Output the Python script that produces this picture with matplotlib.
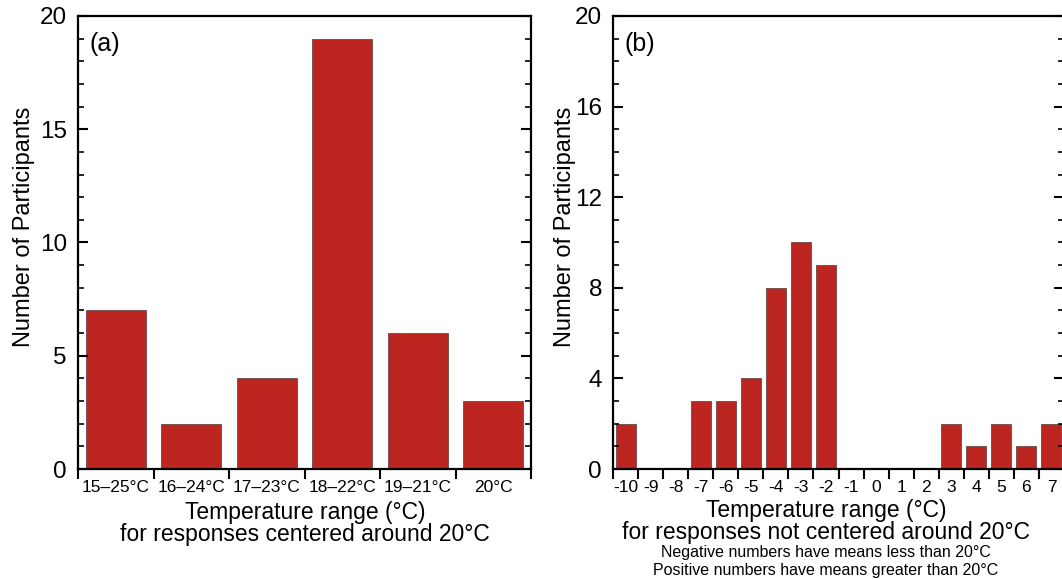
import numpy as np
import matplotlib
matplotlib.use("Agg")
import matplotlib.pyplot as plt
from matplotlib.ticker import MultipleLocator, FixedLocator

plt.rcParams['font.family'] = ['Liberation Sans', 'DejaVu Sans']

# panel (a) data
rangesA = ['15\u201325\u00b0C', '16\u201324\u00b0C', '17\u201323\u00b0C',
           '18\u201322\u00b0C', '19\u201321\u00b0C', '20\u00b0C']
countsA = [7, 2, 4, 19, 6, 3]

# panel (b) data
offsetsB = [-10, -9, -8, -7, -6, -5, -4, -3, -2, -1, 0, 1, 2, 3, 4, 5, 6, 7]
countsB = [2, 0, 0, 3, 3, 4, 8, 10, 9, 0, 0, 0, 0, 2, 1, 2, 1, 2]

barColor = '#bd2620'
edgeColor = '#6a4a48'

W, H = 1062, 579
fig = plt.figure(figsize=(W/100, H/100), dpi=100)

def px(left, top, right, bottom):
    return [left/W, 1 - bottom/H, (right-left)/W, (bottom-top)/H]

axA = fig.add_axes(px(78, 16, 531, 469))
axB = fig.add_axes(px(613, 16, 1064, 469))

def style(ax, n, labels, ymajor):
    x = np.arange(n)
    ax.set_xlim(-0.5, n - 0.5)
    ax.set_ylim(0, 20)
    ax.xaxis.set_major_locator(FixedLocator(np.arange(n + 1) - 0.5))
    ax.xaxis.set_minor_locator(FixedLocator(x))
    ax.set_xticklabels([])
    ax.set_xticklabels(labels, minor=True)
    ax.tick_params(axis='x', which='major', direction='out', length=7, width=1.5)
    ax.tick_params(axis='x', which='minor', length=0, labelsize=12.5, pad=8)
    ax.yaxis.set_major_locator(MultipleLocator(ymajor))
    ax.yaxis.set_minor_locator(MultipleLocator(1))
    ax.tick_params(axis='y', which='major', direction='in', length=7, width=1.5,
                   right=True, labelsize=17.5, pad=8)
    ax.tick_params(axis='y', which='minor', direction='in', length=4, width=1.2, right=True)
    for s in ax.spines.values():
        s.set_linewidth(1.6)
    ax.set_ylabel('Number of Participants', fontsize=17)

# (a)
xa = np.arange(len(countsA))
axA.bar(xa, countsA, width=0.8, color=barColor, edgecolor=edgeColor, linewidth=0.6)
style(axA, len(countsA), rangesA, 5)
axA.yaxis.set_label_coords(-0.094, 0.535)
axA.text(0.025, 0.965, '(a)', transform=axA.transAxes, fontsize=18, va='top', ha='left')
fig.text(305/W, 1 - 512/H, 'Temperature range (\u00b0C)', fontsize=16.5, ha='center', va='center')
fig.text(305/W, 1 - 535/H, 'for responses centered around 20\u00b0C', fontsize=16.5,
         ha='center', va='center')

# (b)
xb = np.arange(len(countsB))
axB.bar(xb, countsB, width=0.8, color=barColor, edgecolor=edgeColor, linewidth=0.6)
style(axB, len(countsB), [str(v) for v in offsetsB], 4)
axB.yaxis.set_label_coords(-0.083, 0.535)
axB.text(0.025, 0.965, '(b)', transform=axB.transAxes, fontsize=18, va='top', ha='left')
fig.text(826/W, 1 - 510/H, 'Temperature range (\u00b0C)', fontsize=16.5, ha='center', va='center')
fig.text(826/W, 1 - 533/H, 'for responses not centered around 20\u00b0C', fontsize=16.5,
         ha='center', va='center')
fig.text(826/W, 1 - 553/H, 'Negative numbers have means less than 20\u00b0C', fontsize=11.5,
         ha='center', va='center')
fig.text(826/W, 1 - 570/H, 'Positive numbers have means greater than 20\u00b0C', fontsize=11.5,
         ha='center', va='center')

fig.savefig('out.png', dpi=100)
